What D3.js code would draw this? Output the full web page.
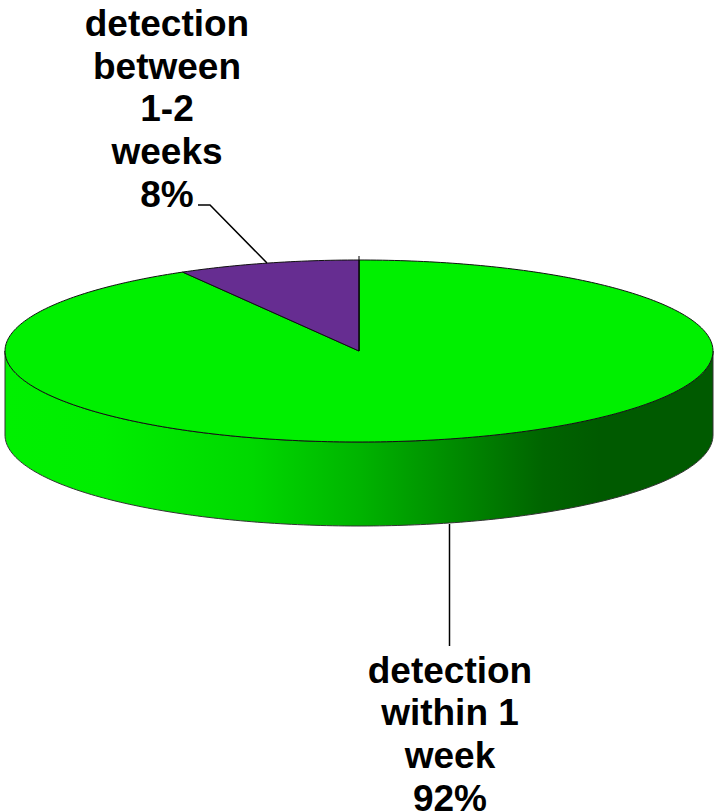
<!DOCTYPE html>
<html><head><meta charset="utf-8">
<script src="https://cdn.jsdelivr.net/npm/d3@7/dist/d3.min.js"></script>
<style>html,body{margin:0;padding:0;background:#fff;overflow:hidden}svg{display:block}text{font-family:"Liberation Sans",Arial,sans-serif;font-weight:bold;font-size:37px;fill:#000;text-anchor:middle}</style>
</head><body><svg id="c" width="718" height="812"></svg>
<script>
const categories = ["detection within 1 week", "detection between 1-2 weeks"];
const shares = [91.7, 8.3];
const sliceColors = ["#00f000", "#662d91"];
const labelLines = [["detection","within 1","week","92%"],["detection","between","1-2","weeks","8%"]];

const cx=359, cy=351, rx=354, ry=91, depth=84;
const svg=d3.select("#c");
const sx=d3.scaleLinear().domain([-1,1]).range([cx-rx,cx+rx]);
const sy=d3.scaleLinear().domain([-1,1]).range([cy-ry,cy+ry]);
const pie=d3.pie().sort(null).value(d=>d).startAngle(0).endAngle(2*Math.PI);
const arcs=pie(shares);
const P=a=>[sx(Math.sin(a)),sy(-Math.cos(a))];
const line=d3.line();
function ellipseArc(a0,a1){const n=Math.max(2,Math.ceil(Math.abs(a1-a0)*60));
  return d3.range(n+1).map(i=>P(a0+(a1-a0)*i/n));}

const defs=svg.append("defs");
const g=defs.append("linearGradient").attr("id","side").attr("gradientUnits","userSpaceOnUse")
 .attr("x1",cx-rx).attr("x2",cx+rx).attr("y1",0).attr("y2",0);
[[0,"#00f000"],[0.14,"#00ee00"],[0.35,"#00d800"],[0.5,"#00b400"],[0.63,"#008c00"],[0.76,"#006400"],[0.84,"#005a00"],[1,"#005a00"]]
 .forEach(s=>g.append("stop").attr("offset",s[0]).attr("stop-color",s[1]));

// side wall: front half of the rim
const front=ellipseArc(Math.PI/2,3*Math.PI/2);
const wall=front.concat(front.slice().reverse().map(p=>[p[0],p[1]+depth]));
svg.append("path").attr("d",line(wall)+"Z").attr("fill","url(#side)").attr("stroke","#333").attr("stroke-width",1);

// top faces
arcs.forEach((d,i)=>{
  const pts=[[cx,cy]].concat(ellipseArc(d.startAngle,d.endAngle));
  svg.append("path").attr("d",line(pts)+"Z").attr("fill",sliceColors[i]).attr("stroke","#111").attr("stroke-width",1);
});
svg.append("path").attr("d",line([[cx,cy],[cx,cy-ry-4]])).attr("fill","none").attr("stroke","#000").attr("stroke-width",1);

// leader lines
svg.append("path").attr("d",line([[449.5,524],[449.5,646]])).attr("fill","none").attr("stroke","#000").attr("stroke-width",1.5);
svg.append("path").attr("d",line([[198,205],[210,205],[267,263]])).attr("fill","none").attr("stroke","#000").attr("stroke-width",1.5);

// labels
const lh=42.7;
[[450,682.5],[167,36]].forEach((p,i)=>{
  labelLines[i].forEach((t,k)=>svg.append("text").attr("x",p[0]).attr("y",p[1]+k*lh).text(t));
});
</script></body></html>
